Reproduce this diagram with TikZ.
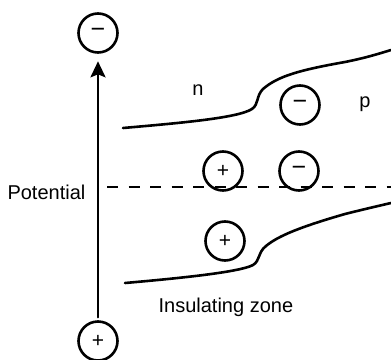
\documentclass[tikz,border=0pt]{standalone}
\usepackage{fontspec}
\setmainfont{Liberation Sans}
\usetikzlibrary{arrows.meta}
\begin{document}
\begin{tikzpicture}[line join=round, line cap=round,>={Stealth[length=16pt,width=15pt,inset=3pt]},x=1pt,y=-1pt,line width=2.6pt]
	\tikzset{every node/.style={font=\fontsize{20}{24}\selectfont}}
	\tikzset{ion/.style={draw,circle,minimum size=39pt,inner sep=0pt},
		poscharge/.style={ion,font=\fontsize{21}{21}\selectfont},
		negcharge/.style={ion,font=\fontsize{25}{25}\selectfont}}
	\useasboundingbox (0,0) rectangle (391,359);
	% potential axis
	\node[negcharge] (top) at (98,33) {−};
	\node[poscharge] (bot) at (98,341) {+};
	\draw[->,shorten >=7.5pt,shorten <=3pt] (bot) -- (top);
	\node[anchor=base east] (pot) at (90,199) {Potential};
	\draw[line cap=butt,dash pattern=on 11pt off 10.5pt] (107,187)--(391,187);
	% band edges
	\draw (123,128) .. controls (180,123) and (238,118) .. (252,109)
		.. controls (259,104) and (256,96) .. (263,89)
		.. controls (278,76) and (300,70) .. (345,62)
		.. controls (365,58) and (378,54) .. (391,50);
	\draw (125,283) .. controls (182,278) and (240,272) .. (253,265)
		.. controls (260,261) and (258,252) .. (266,246)
		.. controls (278,236) and (300,227) .. (345,214)
		.. controls (365,209) and (378,206) .. (391,203);
	% charges
	\node[negcharge] (n1) at (300,105) {−};
	\node[poscharge] (p1) at (223,171) {+};
	\node[negcharge] (n2) at (299,171) {−};
	\node[poscharge] (p2) at (225,241) {+};
	% labels
	\node[anchor=base] (nlab) at (198,95) {n};
	\node[anchor=base] (plab) at (365,107) {p};
	\node[anchor=base west] (zone) at (154,312) {Insulating zone};
\end{tikzpicture}
\end{document}
